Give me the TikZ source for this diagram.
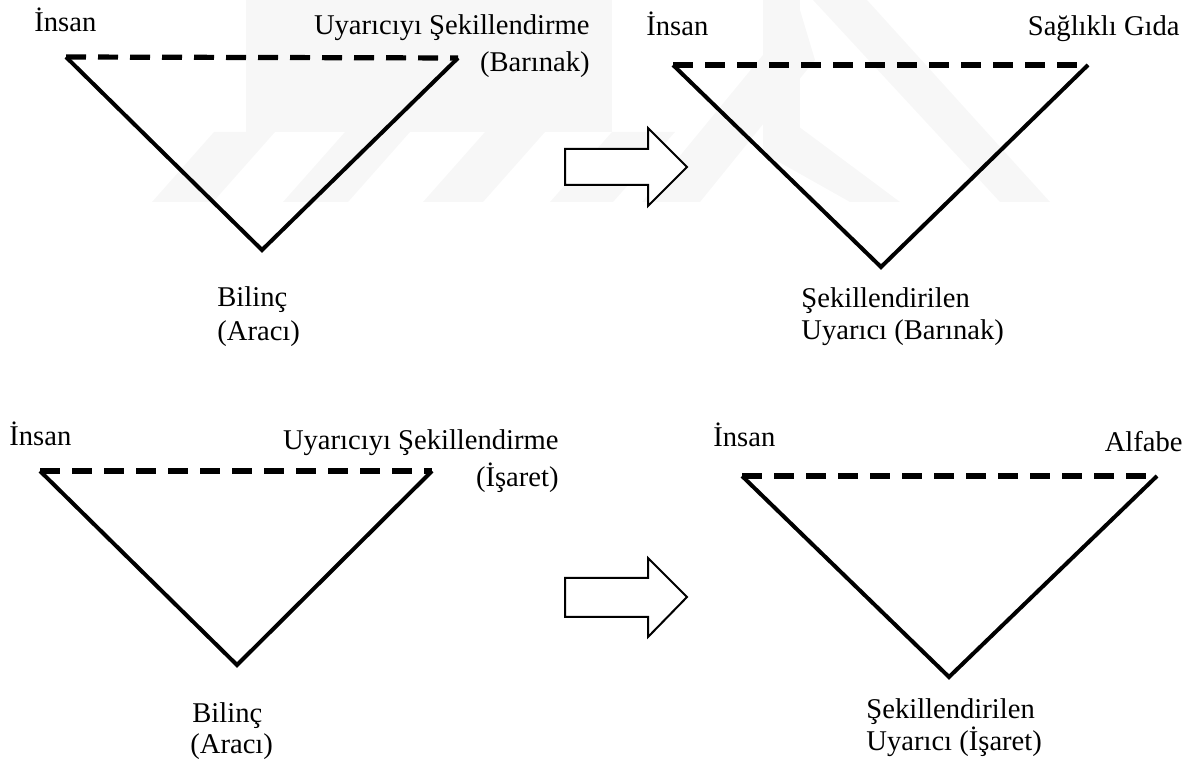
\documentclass[tikz,border=0pt]{standalone}
\usepackage{fontspec}
\setmainfont{Liberation Serif}
\begin{document}
\begin{tikzpicture}[x=0.5pt,y=-0.5pt,
  lbl/.style={inner sep=0pt,font=\fontsize{14.3}{17}\selectfont},
  side/.style={line width=2pt,line join=miter},
  top/.style={line width=2.6pt,dash pattern=on 10pt off 6pt},
  blockarrow/.style={draw,line width=1pt,fill=white,line join=miter},
  wm/.style={fill=black!3}]
\useasboundingbox (0,0) rectangle (1193,763);
% faint watermark
\fill[wm] (246,0) rectangle (612,132);
\foreach \b/\w in {152/61,283/65,423/60,550/63}{
  \fill[wm] (\b,202) -- (\b+\w,202) -- (\b+\w+62,132) -- (\b+62,132) -- cycle;}
\fill[wm] (763,0) rectangle (800,130);
\fill[wm] (642,202) -- (700,202) -- (815,60) -- (800,10) -- cycle;
\fill[wm] (813,0) -- (867,0) -- (1050,202) -- (1000,202) -- cycle;
\fill[wm] (763,100) -- (763,153) -- (850,202) -- (900,202) -- cycle;
% ---- top left
\coordinate (a1) at (66,57);
\coordinate (b1) at (458,58);
\coordinate (c1) at (262,250);
\draw[side] (a1) -- (c1) -- (b1);
\draw[top] (a1) -- (b1);
\node[lbl,anchor=base west] (i1) at (34,32) {İnsan};
\node[lbl,anchor=base east] (u1) at (590,35) {Uyarıcıyı Şekillendirme};
\node[lbl,anchor=base east] (u1b) at (590,72) {(Barınak)};
\node[lbl,anchor=base west] (bl1) at (217,307) {Bilinç};
\node[lbl,anchor=base west] (ar1) at (217,341) {(Aracı)};
% ---- top arrow
\draw[blockarrow] (565,149) -- (648,149) -- (648,128) -- (687,167) -- (648,206)
  -- (648,185) -- (565,185) -- cycle;
% ---- top right
\coordinate (a2) at (673,65);
\coordinate (b2) at (1088,65);
\coordinate (c2) at (881,267);
\draw[side] (a2) -- (c2) -- (b2);
\draw[top] (a2) -- (b2);
\node[lbl,anchor=base west] (i2) at (646,36) {İnsan};
\node[lbl,anchor=base east] (s2) at (1180,36) {Sağlıklı Gıda};
\node[lbl,anchor=base west] (sk2) at (801,308) {Şekillendirilen};
\node[lbl,anchor=base west] (uy2) at (801,340) {Uyarıcı (Barınak)};
% ---- bottom left
\coordinate (a3) at (40,471);
\coordinate (b3) at (432,471);
\coordinate (c3) at (237,665);
\draw[side] (a3) -- (c3) -- (b3);
\draw[top] (a3) -- (b3);
\node[lbl,anchor=base west] (i3) at (9,446) {İnsan};
\node[lbl,anchor=base east] (u3) at (559,450) {Uyarıcıyı Şekillendirme};
\node[lbl,anchor=base east] (u3b) at (559,487) {(İşaret)};
\node[lbl,anchor=base west] (bl3) at (192,722) {Bilinç};
\node[lbl,anchor=base west] (ar3) at (190,753) {(Aracı)};
% ---- bottom arrow
\draw[blockarrow] (565,578) -- (648,578) -- (648,558) -- (687,597) -- (648,637)
  -- (648,617) -- (565,617) -- cycle;
% ---- bottom right
\coordinate (a4) at (742,476);
\coordinate (b4) at (1157,476);
\coordinate (c4) at (949,677);
\draw[side] (a4) -- (c4) -- (b4);
\draw[top] (a4) -- (b4);
\node[lbl,anchor=base west] (i4) at (713,447) {İnsan};
\node[lbl,anchor=base east] (al4) at (1183,452) {Alfabe};
\node[lbl,anchor=base west] (sk4) at (866,718) {Şekillendirilen};
\node[lbl,anchor=base west] (uy4) at (866,750) {Uyarıcı (İşaret)};
\end{tikzpicture}
\end{document}
